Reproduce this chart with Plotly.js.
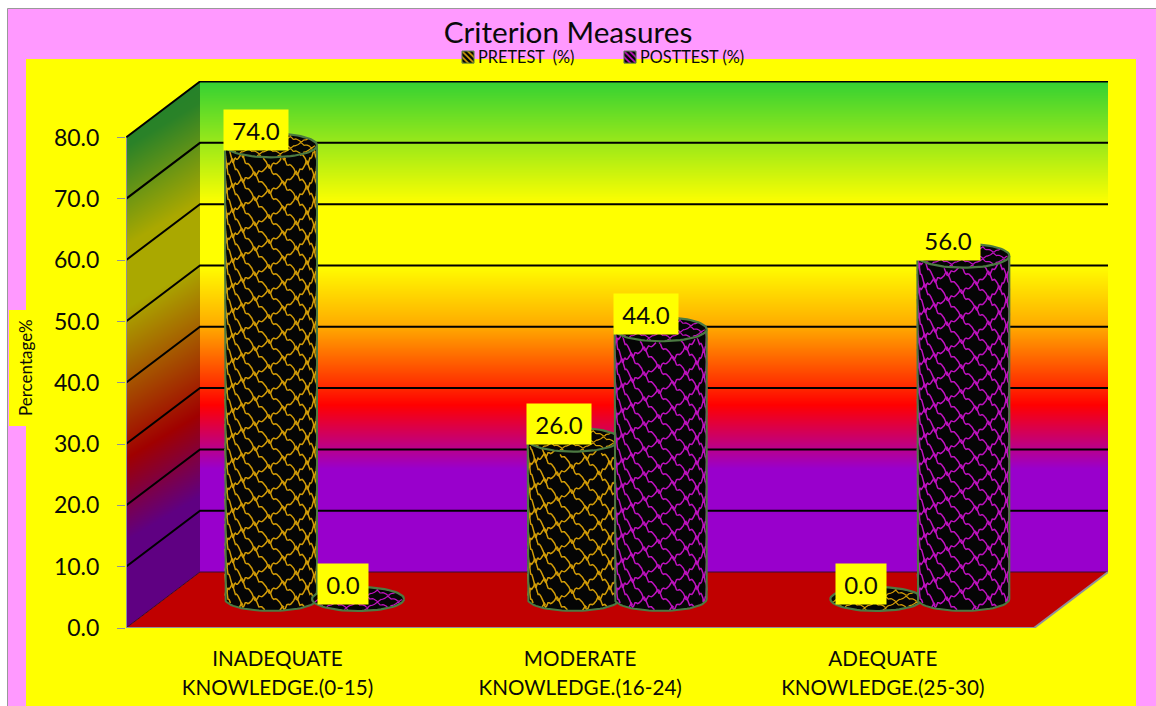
<!DOCTYPE html>
<html>
<head>
<meta charset="utf-8">
<script src="https://cdn.plot.ly/plotly-3.0.1.min.js"></script>
<style>html,body{margin:0;padding:0;background:#fff}</style>
</head>
<body>
<div id="chart" style="width:1156px;height:706px"></div>
<script>
// Chart values
const categories = ["INADEQUATE KNOWLEDGE.(0-15)", "MODERATE KNOWLEDGE.(16-24)", "ADEQUATE KNOWLEDGE.(25-30)"];
const categoryTicks = [
  ["INADEQUATE", "KNOWLEDGE.(0-15)"],
  ["MODERATE", "KNOWLEDGE.(16-24)"],
  ["ADEQUATE", "KNOWLEDGE.(25-30)"]
];
const pretest = [74, 26, 0];
const posttest = [0, 44, 56];
const yTicks = [0, 10, 20, 30, 40, 50, 60, 70, 80];

// Page geometry, in pixels
const W = 1156, H = 706;
const plotLeft = 126, plotRight = 1108, plotTop = 81, plotBottom = 628;
const catPx = 302.67, unitPx = 6.131;
const firstCatPx = 277.5;
const depthPx = {x: 74, y: 56};
const xU = p => p / catPx, yU = p => p / unitPx;
const px2x = p => (p - firstCatPx) / catPx;
const px2y = p => (plotBottom - p) / unitPx;
const xRange = [px2x(plotLeft), px2x(plotRight)];
const yTopValue = px2y(plotTop);
const paperX = p => p / W, paperY = p => 1 - p / H;

const FONT = "Lato, Carlito, Calibri, sans-serif";
const INK = "#0a0a0a";

// Depth offsets of the rear wall and of the column plane
const backDX = xU(depthPx.x), backDY = yU(depthPx.y);
const midDX = backDX / 2, midDY = yU(29);
const barStep = xU(87), barRpx = 46, capRpx = 12;

// Wall gradients
const rearStops = [0, 0.25, 0.375, 0.5, 0.625, 0.66, 0.79, 1];
const rearColors = ["#33d133", "#ffff00", "#ffff00", "#ffaa00", "#ff2800", "#ff0000", "#9900cc", "#9900cc"];
const sideStops = [0, 0.08, 0.26, 0.375, 0.65, 0.8, 1];
const sideColors = ["#1f822a", "#2a8228", "#aaa800", "#aaa800", "#a00000", "#5f0082", "#5f0082"];
const scaleOf = (stops, cols) => stops.map((s, i) => [s, cols[i]]);

const traces = [];

// Rear wall
(function () {
  const rows = [], ys = [];
  const n = 491;
  for (let i = 0; i <= n; i++) ys.push(px2y(81 + i * (491 / n)));
  for (let i = 0; i < n; i++) rows.push([(i + 0.5) / n]);
  traces.push({type: "heatmap", x: [xRange[0] + backDX, xRange[1]], y: ys, z: rows, zmin: 0, zmax: 1,
    colorscale: scaleOf(rearStops, rearColors), showscale: false, hoverinfo: "skip", showlegend: false});
})();

// Side wall, a parallelogram cut out of a grid of cells
(function () {
  const xs = [], ys = [], rows = [];
  for (let c = 0; c <= 74; c++) xs.push(px2x(126 + c));
  for (let r = 0; r <= 547; r++) ys.push(px2y(81 + r));
  for (let r = 0; r < 547; r++) {
    const row = [], py = 81.5 + r;
    for (let c = 0; c < 74; c++) {
      const pxx = 126.5 + c;
      const top = 137.5 - (pxx - 126) * 56 / 74, bot = 628 - (pxx - 126) * 56 / 74;
      row.push(py >= top && py <= bot ? Math.min(1, Math.max(0, (py - 81 + 0.6 * (pxx - 163)) / 547)) : null);
    }
    rows.push(row);
  }
  traces.push({type: "heatmap", x: xs, y: ys, z: rows, zmin: 0, zmax: 1,
    colorscale: scaleOf(sideStops, sideColors), showscale: false, hoverinfo: "skip", showlegend: false, hoverongaps: false});
})();

// Floor
const frontL = xRange[0], frontR = xRange[1] - backDX;
traces.push({type: "scatter", mode: "lines", x: [frontL, frontL + backDX, frontR + backDX, frontR, frontL],
  y: [0, backDY, backDY, 0, 0], fill: "toself", fillcolor: "#c00000", line: {width: 0},
  hoverinfo: "skip", showlegend: false});

// Gridlines across both walls
(function () {
  const gx = [], gy = [];
  yTicks.filter(v => v > 0).forEach(v => {
    gx.push(frontL, frontL + backDX, xRange[1], null);
    gy.push(v, v + backDY, v + backDY, null);
  });
  traces.push({type: "scatter", mode: "lines", x: gx, y: gy, line: {color: "#000", width: 2},
    cliponaxis: false, hoverinfo: "skip", showlegend: false});
  traces.push({type: "scatter", mode: "lines", x: [frontL, frontL + backDX, xRange[1]], y: [0, backDY, backDY],
    line: {color: "#3a0a30", width: 1}, hoverinfo: "skip", showlegend: false});
})();

// Axis rules
traces.push({type: "scatter", mode: "lines", x: [frontL, frontL, frontR, frontR + backDX], y: [80, 0, 0, backDY],
  line: {color: "#8f8f9c", width: 2}, cliponaxis: false, hoverinfo: "skip", showlegend: false});

// Column bodies drawn as real bars
function barTrace(name, values, offset) {
  return {type: "bar", name: name, x: values.map((_, i) => i + midDX + offset), y: values,
    base: values.map(() => midDY), width: xU(barRpx * 2), marker: {color: "#050505", line: {width: 0}},
    showlegend: false, hovertemplate: name + ": %{y:.1f}<extra></extra>"};
}
traces.push(barTrace("PRETEST  (%)", pretest, -barStep / 2));
traces.push(barTrace("POSTTEST (%)", posttest, barStep / 2));

// Lopsided wave used for the woven surface texture
function wave(u) {
  const p = ((u % 1) + 1) % 1;
  const tri = p < 0.38 ? p / 0.38 * 2 - 1 : 1 - (p - 0.38) / 0.62 * 2;
  return tri + 0.3 * Math.sin(6 * Math.PI * u) + 0.12 * Math.sin(10 * Math.PI * u);
}

function addCylinders(values, offset, netColor, tilt) {
  const edge = "#4c7a42";
  const lowX = [], lowY = [], netX = [], netY = [], sideX = [], sideY = [];
  const capX = [], capY = [], capNetX = [], capNetY = [], capEdgeX = [], capEdgeY = [];
  const rX = xU(barRpx), rY = yU(capRpx);
  const pitch = 12.5, period = 29, sMax = barRpx * Math.PI / 2;
  values.forEach((v, i) => {
    const cx = i + midDX + offset;
    if (v > 0) {
      // Surface of the column, closed by its rounded lower rim
      lowX.push(cx - rX); lowY.push(midDY + v);
      for (let a = -90; a <= 90; a += 5) {
        const t = a * Math.PI / 180;
        lowX.push(cx + rX * Math.sin(t)); lowY.push(midDY - rY * Math.cos(t));
      }
      lowX.push(cx + rX, cx - rX, null); lowY.push(midDY + v, midDY + v, null);
      const heightPx = v * unitPx;
      for (let j = -8; j * pitch < heightPx + 40; j++) {
        for (let s = -sMax; s <= sMax; s += 1.5) {
          const h = j * pitch + pitch * 0.52 * wave(s / period + (Math.abs(j) % 2 ? 0.5 : 0)) - s * tilt;
          if (h < 0 || h > heightPx) { netX.push(null); netY.push(null); continue; }
          const t = s / barRpx;
          netX.push(cx + rX * Math.sin(t));
          netY.push(midDY + yU(h) - rY * Math.cos(t));
        }
        netX.push(null); netY.push(null);
      }
      sideX.push(cx - rX, cx - rX);
      sideY.push(midDY + v, midDY);
      for (let a = -90; a <= 90; a += 5) {
        const t = a * Math.PI / 180;
        sideX.push(cx + rX * Math.sin(t)); sideY.push(midDY - rY * Math.cos(t));
      }
      sideX.push(cx + rX, null); sideY.push(midDY + v, null);
    }
    const cy = midDY + v;
    for (let a = 0; a <= 360; a += 5) {
      const t = a * Math.PI / 180;
      capX.push(cx + rX * Math.cos(t)); capY.push(cy + rY * Math.sin(t));
      capEdgeX.push(cx + rX * Math.cos(t)); capEdgeY.push(cy + rY * Math.sin(t));
    }
    capX.push(null); capY.push(null); capEdgeX.push(null); capEdgeY.push(null);
    for (let j = -2; j <= 2; j++) {
      for (let s = -1; s <= 1; s += 0.02) {
        const w = j / 2 + 0.18 * wave(s * 2.2 + (Math.abs(j) % 2 ? 0.5 : 0));
        if (s * s + w * w > 0.93) { capNetX.push(null); capNetY.push(null); continue; }
        capNetX.push(cx + rX * s); capNetY.push(cy + rY * w);
      }
      capNetX.push(null); capNetY.push(null);
    }
  });
  const plain = {type: "scatter", hoverinfo: "skip", showlegend: false};
  traces.push({...plain, mode: "lines", x: lowX, y: lowY, fill: "toself", fillcolor: "#050505", line: {width: 0}});
  traces.push({...plain, mode: "lines", x: netX, y: netY, line: {color: netColor, width: 1.5}, connectgaps: false});
  traces.push({...plain, mode: "lines", x: sideX, y: sideY, line: {color: edge, width: 2}, connectgaps: false});
  traces.push({...plain, mode: "lines", x: capX, y: capY, fill: "toself", fillcolor: "#050505", line: {width: 0}});
  traces.push({...plain, mode: "lines", x: capNetX, y: capNetY, line: {color: netColor, width: 1.2}, connectgaps: false});
  traces.push({...plain, mode: "lines", x: capEdgeX, y: capEdgeY, line: {color: edge, width: 2.2}, connectgaps: false});
}
addCylinders(pretest, -barStep / 2, "#d29c08", 0.3);
addCylinders(posttest, barStep / 2, "#bf12bf", 0.3);

// Legend keys
[["PRETEST  (%)", "#dba408"], ["POSTTEST (%)", "#c814c8"]].forEach(([name, fg]) => {
  traces.push({type: "bar", name: name, x: [null], y: [null], showlegend: true,
    marker: {color: "#050505", line: {color: "#4c7a42", width: 1},
      pattern: {shape: "\\", fgcolor: fg, bgcolor: "#050505", size: 5, solidity: 0.4}}});
});

// Value labels sitting on the column tops
function valueLabels(values, offset) {
  return values.map((v, i) => ({
    x: i + midDX + offset, y: midDY + v, xref: "x", yref: "y", text: v.toFixed(1), showarrow: false,
    xanchor: "center", yanchor: "middle", xshift: -15, yshift: 15.5,
    width: v === 0 ? 50 : 64, height: 40, bgcolor: "#ffff00", borderpad: 0,
    font: {family: FONT, size: 24, color: INK}
  }));
}

const layout = {
  width: W, height: H,
  margin: {l: 0, r: 0, t: 0, b: 0},
  paper_bgcolor: "#ffffff", plot_bgcolor: "rgba(0,0,0,0)",
  barmode: "overlay",
  title: {text: "Criterion Measures", font: {family: FONT, size: 29.7, color: INK},
    x: paperX(568), xanchor: "center", y: paperY(33), yanchor: "middle"},
  xaxis: {
    domain: [paperX(plotLeft), paperX(plotRight)], range: xRange, showgrid: false, zeroline: false,
    showline: false, ticks: "", tickmode: "array", tickvals: categories.map((_, i) => i),
    ticktext: categoryTicks.map(t => `<span style="font-size:20.6px">${t[0]}</span><br><span style="font-size:20.6px">${t[1]}</span>`),
    tickangle: 0, tickfont: {family: FONT, size: 22, color: INK}, ticklabelstandoff: 15, fixedrange: true
  },
  yaxis: {
    domain: [paperY(plotBottom), paperY(plotTop)], range: [0, yTopValue], showgrid: false, zeroline: false,
    showline: false, ticks: "outside", ticklen: 8, tickwidth: 1, tickcolor: "#8f8f9c",
    tickmode: "array", tickvals: yTicks, ticktext: yTicks.map(v => v.toFixed(1)), ticklabelstandoff: 13,
    ticklabelshift: 1.5, tickfont: {family: FONT, size: 23, color: INK}, fixedrange: true
  },
  legend: {orientation: "h", x: paperX(438), xanchor: "left", y: paperY(40), yanchor: "top",
    bgcolor: "rgba(0,0,0,0)", font: {family: FONT, size: 16.3, color: INK}, itemwidth: 30, traceorder: "normal",
    entrywidth: 117, entrywidthmode: "pixels", itemclick: false, itemdoubleclick: false},
  shapes: [
    {type: "rect", xref: "paper", yref: "paper", layer: "below", x0: paperX(7.5), x1: paperX(1170), y0: paperY(8.5), y1: paperY(720),
      fillcolor: "#ff99ff", line: {color: "#999999", width: 1}},
    {type: "rect", xref: "paper", yref: "paper", layer: "below", x0: paperX(26), x1: paperX(1136), y0: paperY(59), y1: paperY(706),
      fillcolor: "#ffff00", line: {width: 0}},
    {type: "rect", xref: "paper", yref: "paper", layer: "below", x0: paperX(9), x1: paperX(26), y0: paperY(310), y1: paperY(426),
      fillcolor: "#ffff00", line: {width: 0}}
  ],
  annotations: [
    {xref: "paper", yref: "paper", x: paperX(25), y: paperY(367), text: "Percentage%", textangle: -90, showarrow: false,
      xanchor: "center", yanchor: "middle", font: {family: FONT, size: 17, color: INK}}
  ].concat(valueLabels(pretest, -barStep / 2), valueLabels(posttest, barStep / 2)),
  showlegend: true
};

Plotly.newPlot("chart", traces, layout, {displayModeBar: false, staticPlot: true}).then(() => {
  // Bring each legend key up next to its label
  document.querySelectorAll(".legend .legendsymbols").forEach(g => g.setAttribute("transform", "translate(10,0)"));
});
</script>
</body>
</html>
